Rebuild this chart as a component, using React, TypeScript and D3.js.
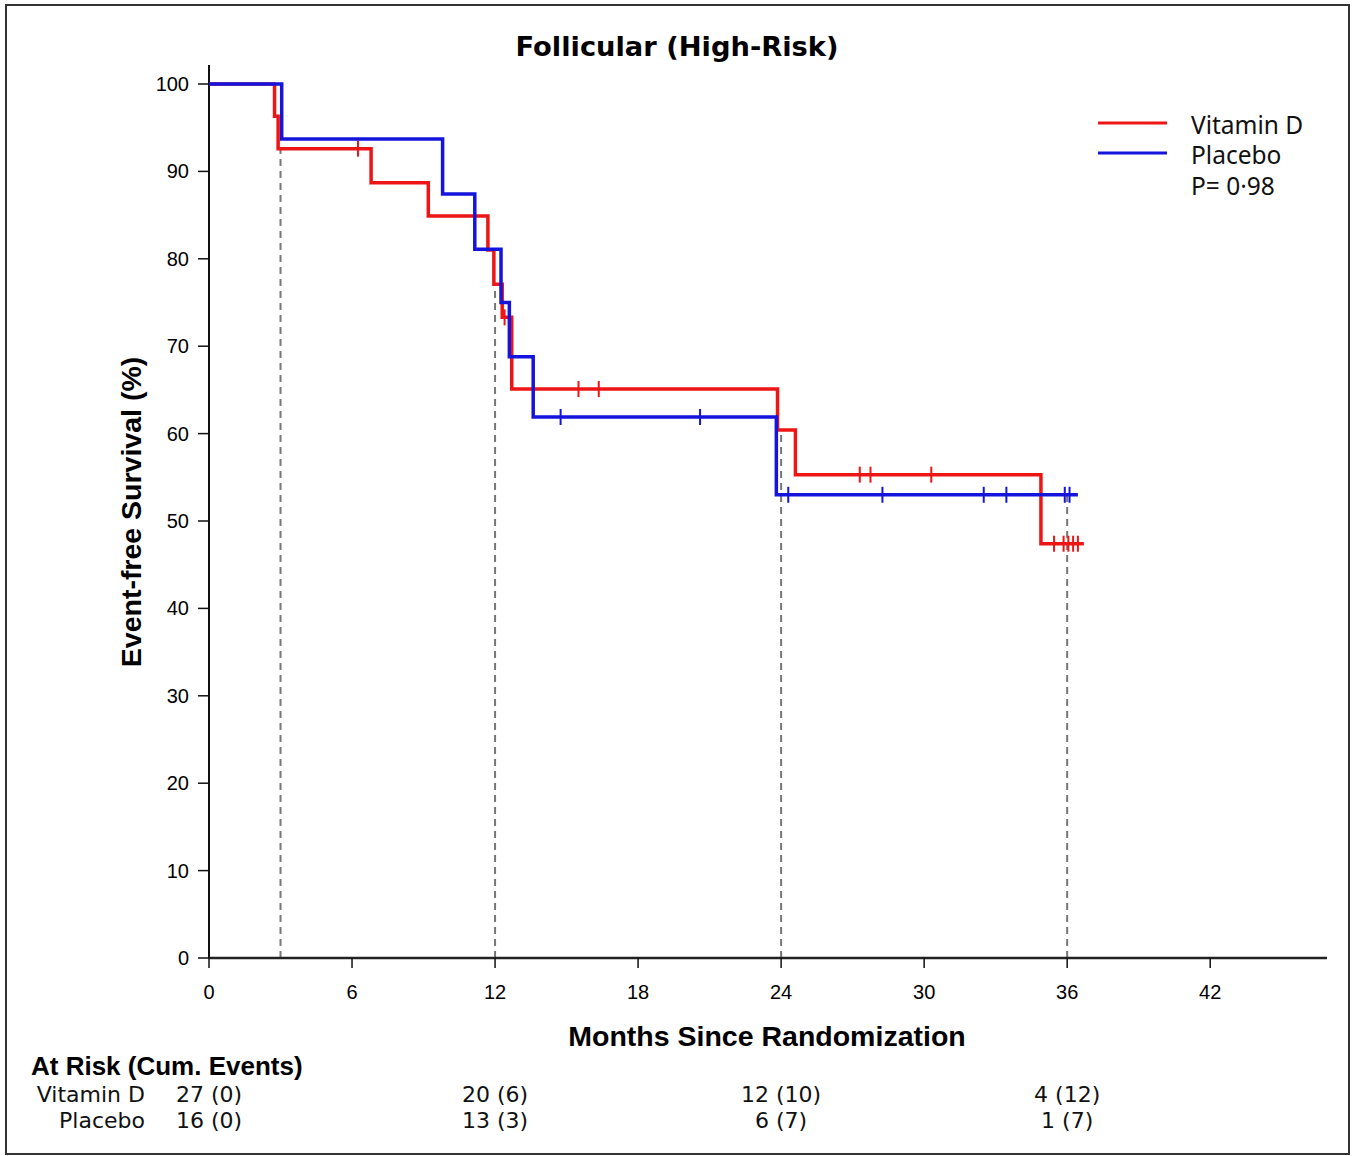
import * as d3 from 'd3'
import React from 'react'

// axis ticks
const monthTicks = [0, 6, 12, 18, 24, 30, 36, 42]
const survTicks = [0, 10, 20, 30, 40, 50, 60, 70, 80, 90, 100]

// Vitamin D arm: step start times (months) and survival (%)
const vitDTimes = [0, 2.75, 2.9, 6.8, 9.2, 11.7, 11.95, 12.3, 12.7, 23.85, 24.6, 34.9]
const vitDSurv = [100, 96.3, 92.6, 88.7, 84.9, 81.0, 77.1, 73.3, 65.1, 60.4, 55.3, 47.4]
const vitDEnd = 36.7
const vitDCensor = [6.25, 12.4, 15.5, 16.35, 27.3, 27.75, 30.3, 35.45, 35.85, 36.05, 36.25, 36.45]

// Placebo arm
const placTimes = [0, 3.05, 9.8, 11.15, 12.25, 12.6, 13.6, 23.8]
const placSurv = [100, 93.7, 87.4, 81.1, 75.0, 68.8, 61.9, 53.0]
const placEnd = 36.45
const placCensor = [14.75, 20.6, 24.3, 28.25, 32.5, 33.45, 35.9, 36.1]

// dashed reference lines
const refTimes = [3, 12, 24, 36]
const refTops = [92.6, 76.5, 60.4, 53.0]

// at-risk table
const riskTimes = [0, 12, 24, 36]
const vitDRisk = ['27 (0)', '20 (6)', '12 (10)', '4 (12)']
const placRisk = ['16 (0)', '13 (3)', '6 (7)', '1 (7)']

const RED = '#ee1515'
const BLUE = '#1414dc'
const sans = 'Arial, "Liberation Sans", sans-serif'
const legendFont = '"Noto Sans", sans-serif'
const tableFont = '"DejaVu Sans", sans-serif'

const xScale = d3.scaleLinear().domain([0, 46.9]).range([209, 1327])
const yScale = d3.scaleLinear().domain([0, 100]).range([958, 84])

const stepLine = d3
  .line<[number, number]>()
  .x((d) => xScale(d[0]))
  .y((d) => yScale(d[1]))
  .curve(d3.curveStepAfter)

const bisect = d3.bisector((t: number) => t).right

const Curve = ({ times, surv, end, censor, color }: { times: number[]; surv: number[]; end: number; censor: number[]; color: string }) => {
  const pts: [number, number][] = times.map((t, i) => [t, surv[i]])
  pts.push([end, surv[surv.length - 1]])
  const valueAt = (t: number) => surv[Math.max(0, bisect(times, t) - 1)]
  return (
    <g>
      <path d={stepLine(pts) || ''} fill="none" stroke={color} strokeWidth={3.5} />
      {censor.map((t, i) => (
        <line
          key={i}
          x1={xScale(t)}
          x2={xScale(t)}
          y1={yScale(valueAt(t)) - 8}
          y2={yScale(valueAt(t)) + 8}
          stroke={color}
          strokeWidth={2}
        />
      ))}
    </g>
  )
}

const App = () => {
  return (
    <svg
      width={1352}
      height={1156}
      style={{ position: 'absolute', left: 0, top: 0, background: '#fff' }}
    >
      <rect x={6} y={5} width={1343} height={1149} fill="#fff" stroke="#333" strokeWidth={2} />

      <text x={677} y={48} textAnchor="middle" dominantBaseline="middle" fontFamily='"DejaVu Sans", sans-serif' fontWeight="bold" fontSize={27.3}>
        Follicular (High-Risk)
      </text>

      {/* dashed reference lines */}
      {refTimes.map((t, i) => (
        <line
          key={t}
          x1={xScale(t)}
          x2={xScale(t)}
          y1={yScale(0)}
          y2={yScale(refTops[i])}
          stroke="#777"
          strokeWidth={2}
          strokeDasharray="7,5"
        />
      ))}

      {/* y axis */}
      <line x1={xScale(0)} x2={xScale(0)} y1={65} y2={yScale(0)} stroke="#111" strokeWidth={2} />
      {survTicks.map((v) => (
        <g key={v} transform={`translate(${xScale(0)},${yScale(v)})`}>
          <line x1={-11} x2={0} stroke="#111" strokeWidth={1.5} />
          <text x={-20} textAnchor="end" dominantBaseline="central" fontFamily={sans} fontSize={20}>
            {v}
          </text>
        </g>
      ))}
      <text
        transform={`translate(131,${(yScale(0) + yScale(100)) / 2 - 9}) rotate(-90)`}
        textAnchor="middle"
        dominantBaseline="central"
        fontFamily={sans}
        fontWeight="bold"
        fontSize={28.5}
      >
        Event-free Survival (%)
      </text>

      {/* x axis */}
      <line x1={xScale(0)} x2={xScale(46.9)} y1={yScale(0)} y2={yScale(0)} stroke="#222" strokeWidth={2.5} />
      {monthTicks.map((m) => (
        <g key={m} transform={`translate(${xScale(m)},${yScale(0)})`}>
          <line y1={0} y2={10} stroke="#111" strokeWidth={1.5} />
          <text y={34} textAnchor="middle" dominantBaseline="central" fontFamily={sans} fontSize={20}>
            {m}
          </text>
        </g>
      ))}
      <text x={767} y={1036} textAnchor="middle" dominantBaseline="central" fontFamily={sans} fontWeight="bold" fontSize={28.5}>
        Months Since Randomization
      </text>

      <Curve times={vitDTimes} surv={vitDSurv} end={vitDEnd} censor={vitDCensor} color={RED} />
      <Curve times={placTimes} surv={placSurv} end={placEnd} censor={placCensor} color={BLUE} />

      {/* legend */}
      <line x1={1098} x2={1167} y1={123} y2={123} stroke={RED} strokeWidth={3} />
      <line x1={1098} x2={1167} y1={153} y2={153} stroke={BLUE} strokeWidth={3} />
      <g fontFamily={legendFont} fontSize={24.5} fill="#111">
        <text x={1191} y={124} dominantBaseline="central">Vitamin D</text>
        <text x={1191} y={154} dominantBaseline="central">Placebo</text>
        <text x={1191} y={185} dominantBaseline="central">P= 0·98</text>
      </g>

      {/* at-risk table */}
      <text x={31} y={1066} dominantBaseline="central" fontFamily={sans} fontWeight="bold" fontSize={26}>
        At Risk (Cum. Events)
      </text>
      <g fontFamily={tableFont} fontSize={22} fill="#111">
        <text x={145} y={1094} textAnchor="end" dominantBaseline="central">Vitamin D</text>
        <text x={145} y={1120} textAnchor="end" dominantBaseline="central">Placebo</text>
        {riskTimes.map((t, i) => (
          <text key={'v' + t} x={xScale(t)} y={1094} textAnchor="middle" dominantBaseline="central">
            {vitDRisk[i]}
          </text>
        ))}
        {riskTimes.map((t, i) => (
          <text key={'p' + t} x={xScale(t)} y={1120} textAnchor="middle" dominantBaseline="central">
            {placRisk[i]}
          </text>
        ))}
      </g>
    </svg>
  )
}

export default App
